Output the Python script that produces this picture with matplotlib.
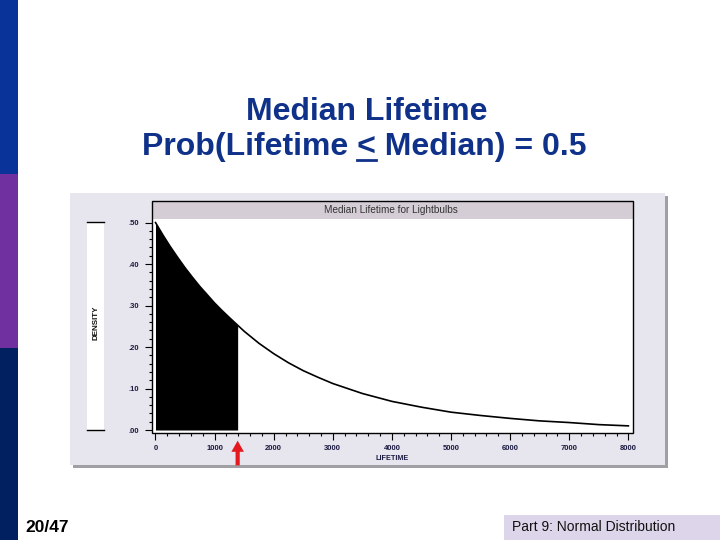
import matplotlib
matplotlib.use("Agg")
import matplotlib.pyplot as plt
from matplotlib.patches import Rectangle
from matplotlib.lines import Line2D

plt.rcParams['font.family'] = ['Liberation Sans', 'DejaVu Sans']

# values
lifetime = [0, 125, 250, 375, 500, 625, 750, 875, 1000, 1125, 1250, 1500, 1750, 2000, 2250,
            2500, 2750, 3000, 3500, 4000, 4500, 5000, 5500, 6000, 6500, 7000, 7500, 8000]
density = [0.500, 0.470, 0.442, 0.416, 0.391, 0.368, 0.346, 0.326, 0.306, 0.288, 0.271,
           0.238, 0.209, 0.184, 0.162, 0.143, 0.127, 0.112, 0.088,
           0.069, 0.055, 0.043, 0.035, 0.028, 0.022, 0.018, 0.013, 0.010]
median_life = 1390
median_density = 0.252

x_ticks = [0, 1000, 2000, 3000, 4000, 5000, 6000, 7000, 8000]
x_tick_labels = ['0', '1000', '2000', '3000', '4000', '5000', '6000', '7000', '8000']
y_ticks = [0.0, 0.1, 0.2, 0.3, 0.4, 0.5]
y_tick_labels = ['.00', '.10', '.20', '.30', '.40', '.50']

title_color = '#0f3189'
W, H = 720, 540


def fx(x):
    return x / W


def fy(y):
    return 1 - y / H


def box(x0, y0, x1, y1, **kw):
    # rectangle in pixel coords (top-left origin)
    return Rectangle((fx(x0), fy(y1)), (x1 - x0) / W, (y1 - y0) / H,
                     transform=fig.transFigure, **kw)


fig = plt.figure(figsize=(7.2, 5.4), dpi=100)
fig.patch.set_facecolor('white')

# left side bar
fig.add_artist(box(0, 0, 18, 174, facecolor='#0a3399', edgecolor='none', zorder=-2))
fig.add_artist(box(0, 174, 18, 348, facecolor='#7030a0', edgecolor='none', zorder=-2))
fig.add_artist(box(0, 348, 18, 540, facecolor='#002060', edgecolor='none', zorder=-2))

# slide title
fig.text(fx(367), fy(120), 'Median Lifetime', ha='center', va='baseline',
         fontsize=23, fontweight='bold', color=title_color)
fig.text(fx(364), fy(155), 'Prob(Lifetime < Median) = 0.5', ha='center', va='baseline',
         fontsize=23, fontweight='bold', color=title_color)
fig.add_artist(Line2D([fx(357), fx(376)], [fy(160), fy(160)], transform=fig.transFigure,
                      color=title_color, lw=2))

# chart panel with shadow
fig.add_artist(box(73, 196, 668, 468, facecolor='#a0a0a4', edgecolor='none', zorder=-2))
fig.add_artist(box(70, 193, 665, 465, facecolor='#e7e5ed', edgecolor='none', zorder=-1))

# density label box
fig.add_artist(box(87, 222.5, 104, 430, facecolor='white', edgecolor='none', zorder=-0.5))
for yy in (222.5, 430):
    fig.add_artist(Line2D([fx(87), fx(104)], [fy(yy), fy(yy)], transform=fig.transFigure,
                          color='black', lw=1))
fig.text(fx(96), fy(323), 'DENSITY', rotation=90, ha='center', va='center',
         fontsize=5.8, fontweight='bold', color='#111')

# title band and frame
fig.add_artist(box(152, 201, 632.5, 218.5, facecolor='#d5cdd5', edgecolor='none', zorder=1))
fig.add_artist(box(152, 201, 632.5, 433, facecolor='none', edgecolor='black', lw=1, zorder=3))
fig.text(fx(391), fy(210), 'Median Lifetime for Lightbulbs', ha='center', va='center',
         fontsize=7.2, color='#333', zorder=4)

ax = fig.add_axes([fx(152), fy(433), (632.5 - 152) / W, (433 - 218.5) / H])
ax.set_facecolor('white')
for s in ax.spines.values():
    s.set_visible(False)

ax.plot(lifetime, density, color='black', lw=1.2)
fill_x = [v for v in lifetime if v < median_life] + [median_life]
fill_y = [d for v, d in zip(lifetime, density) if v < median_life] + [median_density]
ax.fill_between(fill_x, 0, fill_y, color='black', lw=0)

ax.set_xlim(-59, 8070)
ax.set_ylim(-0.0072, 0.5097)
ax.set_xticks(x_ticks)
ax.set_xticklabels(x_tick_labels)
ax.set_xticks(range(0, 8001, 200), minor=True)
ax.set_yticks(y_ticks)
ax.set_yticklabels(y_tick_labels)
ax.set_yticks([i * 0.02 for i in range(26)], minor=True)
ax.tick_params(axis='both', which='major', direction='out', length=5, width=0.8,
               labelsize=5.5, labelcolor='#1a1a40', pad=4)
ax.tick_params(axis='both', which='minor', direction='out', length=2.5, width=0.8)
for lab in ax.get_xticklabels() + ax.get_yticklabels():
    lab.set_fontweight('bold')
ax.set_xlabel('LIFETIME', fontsize=5.2, fontweight='bold', color='#1a1a40', labelpad=1.5)

# red arrow pointing at the median
ax.annotate('', xy=(median_life, -0.019), xytext=(median_life, -0.092),
            xycoords='data', textcoords='data', annotation_clip=False,
            arrowprops=dict(arrowstyle='simple,head_width=0.9,head_length=0.8,tail_width=0.3',
                            color='#e3191e', mutation_scale=10, lw=0))

# footer
fig.text(fx(25), fy(532), '20/47', ha='left', va='baseline', fontsize=12.5,
         fontweight='bold', color='black')
fig.add_artist(box(504, 515, 720, 540, facecolor='#ddd6ea', edgecolor='none'))
fig.text(fx(512), fy(527), 'Part 9: Normal Distribution', ha='left', va='center',
         fontsize=10, color='#111')

fig.savefig('out.png', dpi=100)
